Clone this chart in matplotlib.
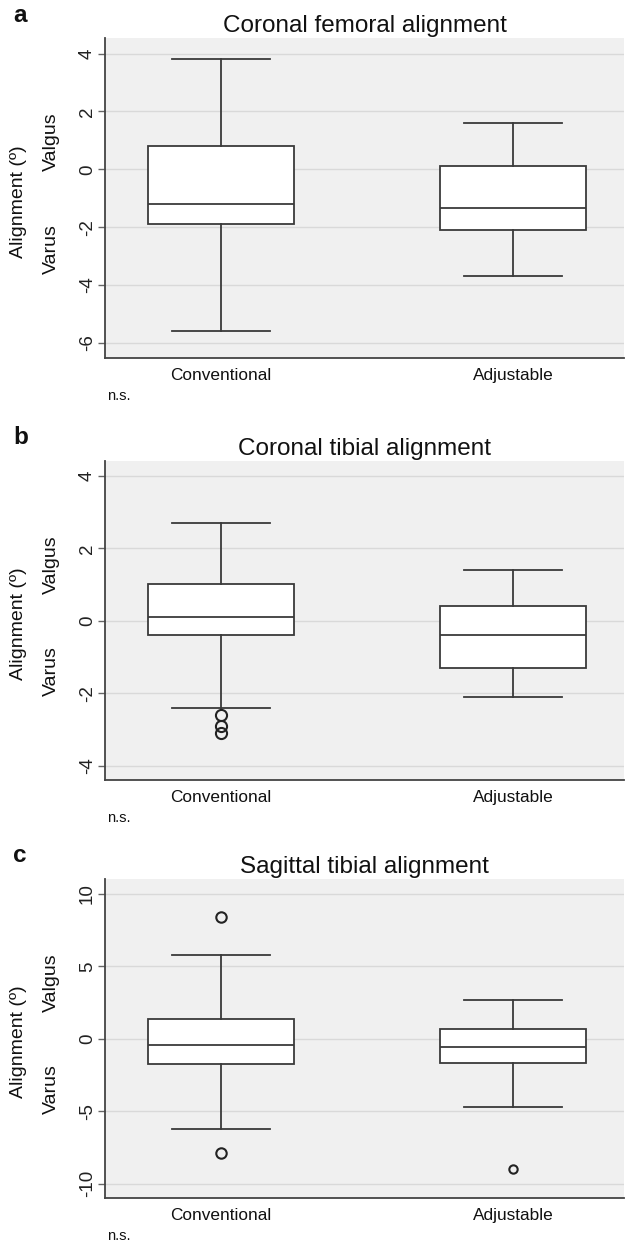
import numpy as np
import matplotlib.pyplot as plt
from matplotlib.transforms import blended_transform_factory

plt.rcParams['font.family'] = ['Liberation Sans', 'DejaVu Sans']

groups = ['Conventional', 'Adjustable']
panel_letters = ['a', 'b', 'c']
panel_titles = ['Coronal femoral alignment', 'Coronal tibial alignment', 'Sagittal tibial alignment']

# box stats per group: [low whisker, q1, median, q3, high whisker]
femoral_conv = [-5.6, -1.9, -1.2, 0.8, 3.8]
femoral_adj = [-3.7, -2.1, -1.35, 0.1, 1.6]
tibial_conv = [-2.4, -0.4, 0.1, 1.0, 2.7]
tibial_adj = [-2.1, -1.3, -0.4, 0.4, 1.4]
sagittal_conv = [-6.2, -1.75, -0.45, 1.4, 5.8]
sagittal_adj = [-4.7, -1.65, -0.6, 0.7, 2.7]

# outliers
femoral_conv_out = []
femoral_adj_out = []
tibial_conv_out = [-2.6, -2.9, -3.1]
tibial_adj_out = []
sagittal_conv_out = [8.4, -7.9]
sagittal_adj_out = [-9.0]

yticks_a = [-6, -4, -2, 0, 2, 4]
yticks_b = [-4, -2, 0, 2, 4]
yticks_c = [-10, -5, 0, 5, 10]

ylims = [(-6.52, 4.54), (-4.4, 4.41), (-11.0, 11.04)]

panels = [
    (femoral_conv, femoral_adj, femoral_conv_out, femoral_adj_out, yticks_a),
    (tibial_conv, tibial_adj, tibial_conv_out, tibial_adj_out, yticks_b),
    (sagittal_conv, sagittal_adj, sagittal_conv_out, sagittal_adj_out, yticks_c),
]

W, H = 625, 1248
fig = plt.figure(figsize=(W / 100, H / 100), dpi=100)

# axes boxes in pixels: (left, top, bottom)
boxes_px = [(105, 38, 358), (105, 461, 780), (105, 879, 1198)]
edge = '#3a3a3a'

for i, (conv, adj, conv_out, adj_out, yt) in enumerate(panels):
    left, top, bottom = boxes_px[i]
    ax = fig.add_axes([left / W, 1 - bottom / H, (W - 1 - left) / W, (bottom - top) / H])
    ax.set_facecolor('#f0f0f0')

    stats = []
    for name, s, out in [(groups[0], conv, conv_out), (groups[1], adj, adj_out)]:
        stats.append(dict(label=name, whislo=s[0], q1=s[1], med=s[2], q3=s[3],
                          whishi=s[4], fliers=out))
    fsize = 8 if i < 2 else 7.5
    ax.bxp(stats, positions=[1, 2], widths=0.5, capwidths=0.335, patch_artist=True,
           boxprops=dict(facecolor='white', edgecolor=edge, linewidth=1.3),
           medianprops=dict(color=edge, linewidth=1.3),
           whiskerprops=dict(color=edge, linewidth=1.3),
           capprops=dict(color=edge, linewidth=1.3),
           flierprops=dict(marker='o', markerfacecolor='none', markeredgecolor='#222222',
                           markersize=fsize, markeredgewidth=1.5))
    if i == 2:
        # smaller outlier marker for the adjustable group
        ax.lines[-1].set_markersize(6)

    ax.set_xlim(0.603, 2.38)
    ax.set_ylim(*ylims[i])
    ax.set_yticks(yt)
    ax.set_yticklabels([str(v) for v in yt])
    ax.grid(axis='y', color='#d9d9d9', linewidth=1.0)
    ax.set_axisbelow(True)
    for sp in ['top', 'right']:
        ax.spines[sp].set_visible(False)
    for sp in ['left', 'bottom']:
        ax.spines[sp].set_color('#444444')
        ax.spines[sp].set_linewidth(1.3)
    ax.tick_params(axis='y', labelrotation=90, length=5, width=1, color='#666666',
                   pad=1.5, labelsize=13.5, labelcolor='#222222')
    ax.tick_params(axis='x', length=0, pad=7, labelsize=12.4, labelcolor='#111111')
    for lab in ax.get_yticklabels():
        lab.set_va('center')

    ax.set_title(panel_titles[i], fontsize=17.5, pad=4, color='#111111')

    trans = blended_transform_factory(fig.transFigure, ax.transAxes)
    ax.text(19 / W, 0.49, 'Alignment (º)', transform=trans, rotation=90,
            ha='center', va='center', fontsize=14, color='#111111')
    ax.text(51 / W, 0.675, 'Valgus', transform=trans, rotation=90,
            ha='center', va='center', fontsize=14, color='#111111')
    ax.text(51 / W, 0.34, 'Varus', transform=trans, rotation=90,
            ha='center', va='center', fontsize=14, color='#111111')

    fig.text(13 / W, 1 - (top - 23) / H, panel_letters[i], fontsize=17.5, fontweight='bold',
             ha='left', va='center', color='#111111')
    fig.text(107 / W, 1 - (bottom + 38) / H, 'n.s.', fontsize=10.5,
             ha='left', va='center', color='#111111')

fig.savefig('out.png', dpi=100)
